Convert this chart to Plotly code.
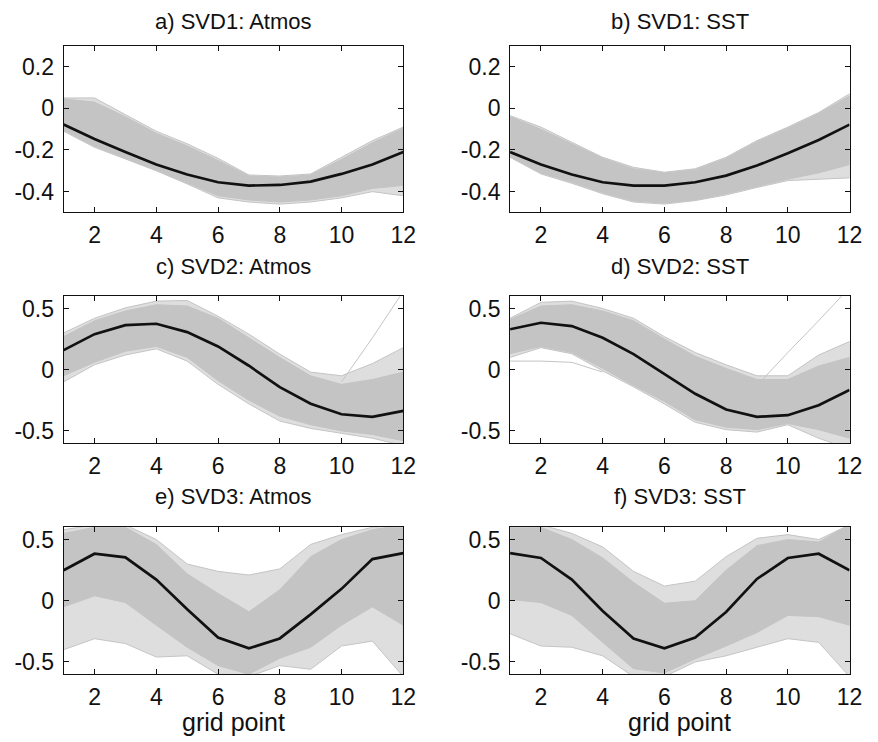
import plotly.graph_objects as go

grid = list(range(1, 13))

# ---- data ----
# Panel a) SVD1: Atmos
mean_a = [-0.078, -0.147, -0.21, -0.27, -0.318, -0.355, -0.371, -0.368, -0.352, -0.315, -0.27, -0.21]
outer_hi_a = [0.05, 0.05, -0.03, -0.11, -0.17, -0.24, -0.32, -0.325, -0.315, -0.235, -0.155, -0.09]
dense_hi_a = [0.045, 0.03, -0.04, -0.12, -0.18, -0.25, -0.325, -0.33, -0.32, -0.245, -0.165, -0.095]
dense_lo_a = [-0.105, -0.182, -0.24, -0.297, -0.358, -0.42, -0.44, -0.45, -0.44, -0.42, -0.385, -0.37]
outer_lo_a = [-0.11, -0.187, -0.243, -0.3, -0.363, -0.43, -0.45, -0.46, -0.45, -0.43, -0.4, -0.42]

# Panel b) SVD1: SST
mean_b = [-0.21, -0.27, -0.318, -0.355, -0.371, -0.371, -0.355, -0.323, -0.275, -0.216, -0.152, -0.078]
outer_hi_b = [-0.035, -0.09, -0.163, -0.235, -0.283, -0.307, -0.29, -0.235, -0.155, -0.09, -0.02, 0.07]
dense_hi_b = [-0.04, -0.1, -0.17, -0.24, -0.29, -0.31, -0.295, -0.24, -0.16, -0.095, -0.025, 0.06]
dense_lo_b = [-0.233, -0.31, -0.355, -0.405, -0.445, -0.455, -0.44, -0.41, -0.375, -0.34, -0.31, -0.27]
outer_lo_b = [-0.235, -0.315, -0.36, -0.41, -0.45, -0.46, -0.443, -0.416, -0.38, -0.347, -0.34, -0.334]

# Panel c) SVD2: Atmos
mean_c = [0.16, 0.29, 0.364, 0.375, 0.307, 0.19, 0.032, -0.143, -0.278, -0.364, -0.385, -0.337]
outer_hi_c = [0.3, 0.42, 0.505, 0.56, 0.565, 0.437, 0.29, 0.127, -0.02, -0.05, 0.05, 0.18]
dense_hi_c = [0.27, 0.4, 0.48, 0.53, 0.52, 0.42, 0.26, 0.1, -0.05, -0.12, -0.08, -0.02]
dense_lo_c = [-0.05, 0.06, 0.15, 0.19, 0.1, -0.09, -0.25, -0.38, -0.45, -0.5, -0.53, -0.58]
outer_lo_c = [-0.1, 0.04, 0.12, 0.17, 0.07, -0.12, -0.28, -0.42, -0.48, -0.52, -0.56, -0.62]
steep_c_x = [10, 11, 12]
steep_c_y = [-0.1, 0.26, 0.64]

# Panel d) SVD2: SST
mean_d = [0.33, 0.383, 0.356, 0.26, 0.127, -0.035, -0.197, -0.326, -0.385, -0.372, -0.29, -0.165]
outer_hi_d = [0.42, 0.55, 0.56, 0.5, 0.42, 0.27, 0.14, 0.04, -0.05, -0.05, 0.12, 0.23]
dense_hi_d = [0.41, 0.52, 0.53, 0.48, 0.4, 0.25, 0.11, 0.01, -0.08, -0.08, 0.03, 0.1]
dense_lo_d = [0.13, 0.19, 0.14, 0.01, -0.13, -0.26, -0.41, -0.47, -0.49, -0.44, -0.49, -0.56]
outer_lo_d = [0.1, 0.18, 0.13, -0.01, -0.14, -0.28, -0.43, -0.49, -0.51, -0.45, -0.56, -0.65]
flat_d_x = [1, 2, 3, 4]
flat_d_y = [0.07, 0.07, 0.06, -0.02]
steep_d_x = [9, 10, 11, 12]
steep_d_y = [-0.13, 0.14, 0.4, 0.67]

# Panel e) SVD3: Atmos
mean_e = [0.249, 0.384, 0.354, 0.173, -0.07, -0.3, -0.389, -0.308, -0.111, 0.097, 0.34, 0.389]
outer_hi_e = [0.58, 0.62, 0.62, 0.5, 0.3, 0.24, 0.21, 0.26, 0.46, 0.54, 0.6, 0.62]
dense_hi_e = [0.55, 0.6, 0.6, 0.46, 0.22, 0.06, -0.09, 0.09, 0.36, 0.5, 0.58, 0.62]
dense_lo_e = [-0.05, 0.04, -0.015, -0.2, -0.38, -0.53, -0.6, -0.47, -0.38, -0.2, -0.05, -0.2]
outer_lo_e = [-0.4, -0.31, -0.35, -0.46, -0.45, -0.6, -0.62, -0.53, -0.56, -0.37, -0.33, -0.62]

# Panel f) SVD3: SST
mean_f = [0.389, 0.349, 0.173, -0.084, -0.308, -0.389, -0.3, -0.092, 0.178, 0.349, 0.384, 0.249]
outer_hi_f = [0.62, 0.62, 0.55, 0.44, 0.24, 0.12, 0.16, 0.36, 0.51, 0.54, 0.5, 0.62]
dense_hi_f = [0.62, 0.6, 0.5, 0.35, 0.15, -0.02, 0.0, 0.25, 0.45, 0.5, 0.48, 0.62]
dense_lo_f = [0.01, -0.015, -0.12, -0.34, -0.555, -0.59, -0.475, -0.37, -0.26, -0.12, -0.13, -0.2]
outer_lo_f = [-0.27, -0.37, -0.38, -0.45, -0.62, -0.62, -0.5, -0.45, -0.38, -0.31, -0.34, -0.62]

titles = ["a) SVD1: Atmos", "b) SVD1: SST", "c) SVD2: Atmos",
          "d) SVD2: SST", "e) SVD3: Atmos", "f) SVD3: SST"]
x_tickvals = [2, 4, 6, 8, 10, 12]
x_ticktext = ["2", "4", "6", "8", "10", "12"]
y_tickvals_row1 = [-0.4, -0.2, 0, 0.2]
y_ticktext_row1 = ["-0.4", "-0.2", "0", "0.2"]
y_tickvals_rows = [-0.5, 0, 0.5]
y_ticktext_rows = ["-0.5", "0", "0.5"]
xlabel = "grid point"

panels = [
    (mean_a, outer_hi_a, dense_hi_a, dense_lo_a, outer_lo_a),
    (mean_b, outer_hi_b, dense_hi_b, dense_lo_b, outer_lo_b),
    (mean_c, outer_hi_c, dense_hi_c, dense_lo_c, outer_lo_c),
    (mean_d, outer_hi_d, dense_hi_d, dense_lo_d, outer_lo_d),
    (mean_e, outer_hi_e, dense_hi_e, dense_lo_e, outer_lo_e),
    (mean_f, outer_hi_f, dense_hi_f, dense_lo_f, outer_lo_f),
]
extra_lines = {
    2: [(steep_c_x, steep_c_y)],
    3: [(flat_d_x, flat_d_y), (steep_d_x, steep_d_y)],
}

GRAY = "#c4c4c4"
LIGHT = "#dedede"
FONT = "Liberation Sans, Arial, Helvetica, sans-serif"

# page body has an 8px margin: lay out in window pixels, shifted by that margin
OFF = 8
W, H = 878 - OFF, 742 - OFF


def px(x):
    return (x - OFF) / W


def py(y):
    return 1 - (y - OFF) / H


fig = go.Figure()
for i, (mean, ohi, dhi, dlo, olo) in enumerate(panels):
    ax = "" if i == 0 else str(i + 1)
    xr = "x" + ax
    yr = "y" + ax
    fig.add_trace(go.Scatter(x=grid + grid[::-1], y=ohi + olo[::-1], fill="toself",
                             fillcolor=LIGHT, line=dict(color=GRAY, width=1),
                             mode="lines", xaxis=xr, yaxis=yr, hoverinfo="skip"))
    fig.add_trace(go.Scatter(x=grid + grid[::-1], y=dhi + dlo[::-1], fill="toself",
                             fillcolor=GRAY, line=dict(color=GRAY, width=1),
                             mode="lines", xaxis=xr, yaxis=yr, hoverinfo="skip"))
    for ex, ey in extra_lines.get(i, []):
        fig.add_trace(go.Scatter(x=ex, y=ey, mode="lines", line=dict(color=GRAY, width=1),
                                 xaxis=xr, yaxis=yr, hoverinfo="skip"))
    fig.add_trace(go.Scatter(x=grid, y=mean, mode="lines",
                             line=dict(color="#111111", width=2.7),
                             xaxis=xr, yaxis=yr))

xdoms = [[px(64.5), px(409.3)], [px(517.7), px(862.3)]]
ydoms = [[py(212), py(45)], [py(443.3), py(296)], [py(675), py(527.7)]]
title_ys = [py(21), py(266), py(497)]

layout = dict(width=W, height=H, margin=dict(l=0, r=0, t=0, b=0),
              paper_bgcolor="white", plot_bgcolor="white", showlegend=False,
              font=dict(family=FONT, size=23, color="#111111"))
common = dict(showline=True, linecolor="#111111", linewidth=1, mirror="ticks",
              ticks="inside", ticklen=5, tickcolor="#111111", tickwidth=1,
              showgrid=False, zeroline=False,
              tickfont=dict(family=FONT, size=23, color="#111111"))
annotations = []
for i in range(6):
    row, col = divmod(i, 2)
    ax = "" if i == 0 else str(i + 1)
    layout["xaxis" + ax] = dict(common, domain=xdoms[col], range=[1, 12],
                                tickvals=x_tickvals, ticktext=x_ticktext,
                                anchor="y" + ax, ticklabelstandoff=2)
    if row == 0:
        yr, tv, tt = [-0.5, 0.3], y_tickvals_row1, y_ticktext_row1
    else:
        yr, tv, tt = [-0.6, 0.6], y_tickvals_rows, y_ticktext_rows
    layout["yaxis" + ax] = dict(common, domain=ydoms[row], range=yr,
                                tickvals=tv, ticktext=tt, anchor="x" + ax,
                                ticklabelstandoff=4)
    annotations.append(dict(text=titles[i], x=sum(xdoms[col]) / 2, y=title_ys[row],
                            xref="paper", yref="paper", xanchor="center", yanchor="middle",
                            showarrow=False, font=dict(family=FONT, size=22, color="#111111")))
for col in range(2):
    annotations.append(dict(text=xlabel, x=sum(xdoms[col]) / 2, y=py(723),
                            xref="paper", yref="paper", xanchor="center", yanchor="middle",
                            showarrow=False, font=dict(family=FONT, size=25, color="#111111")))
layout["annotations"] = annotations
fig.update_layout(**layout)
fig.write_html("out.html")
